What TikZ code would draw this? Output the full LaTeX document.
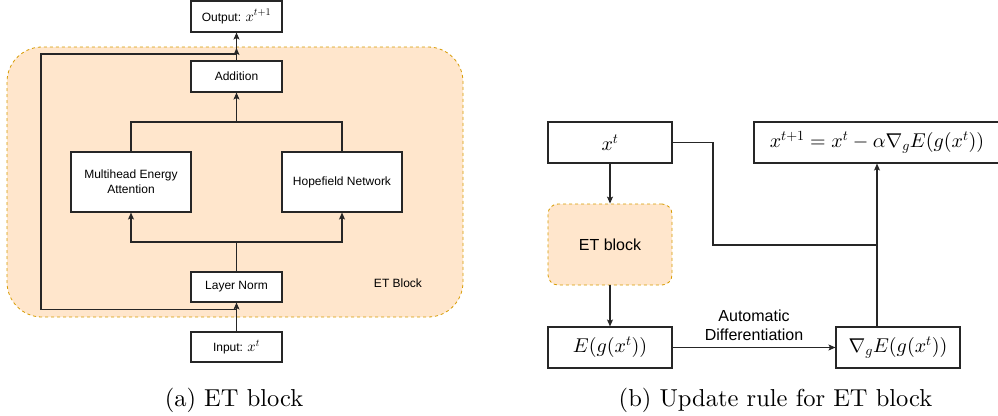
\documentclass[tikz,border=0pt]{standalone}
\usepackage{amsmath}
\usepackage{fontspec}
\newfontfamily\helv{Liberation Sans}
\newfontfamily\capfont[Extension=.otf]{lmroman10-regular}
% math at one design size, scaled (as in the drawing)
\DeclareFontShape{OML}{cmm}{m}{it}{<->cmmi10}{}
\DeclareFontShape{OT1}{cmr}{m}{n}{<->cmr10}{}
\DeclareFontShape{OMS}{cmsy}{m}{n}{<->cmsy10}{}
\usetikzlibrary{arrows.meta}
\definecolor{etfill}{HTML}{FFE6CC}
\definecolor{etline}{HTML}{D79B00}
\newcommand{\lmath}[1]{{\fontsize{14.6}{17}\selectfont$#1$}}
\tikzset{
    box/.style={ % plain white blocks
        draw=black!85,
        line width=1.1pt,
        fill=white,
        inner sep=0pt,
        align=center
    },
    smalltxt/.style={font=\helv\fontsize{12}{15}\selectfont},
    bigtxt/.style={font=\helv\fontsize{16}{19}\selectfont},
    bigmath/.style={font=\fontsize{20}{24}\selectfont},
    etblock/.style={ % orange dashed ET block
        fill=etfill,
        draw=etline,
        line width=0.8pt,
        dash pattern=on 3pt off 3pt
    },
    link/.style={draw=black!85, line width=1.1pt},
    arr/.style={link, -{Stealth[length=7pt,width=6pt,inset=1.5pt]}},
    caption/.style={font=\capfont\fontsize{24.5}{28}\selectfont}
}

\begin{document}
\begin{tikzpicture}[x=1pt,y=-1pt]
\useasboundingbox (0,0) rectangle (998,415);
%%%%%%%%%%%%%%%% (a) ET block
\draw[etblock, rounded corners=35pt] (7,47) rectangle (463,317);
\node [box,smalltxt,minimum width=91pt,minimum height=31pt] (out) at (236.5,16.5) {Output: \lmath{x^{t+1}}};
\node [box,smalltxt,minimum width=91pt,minimum height=31pt] (add) at (236.5,76.5) {Addition};
\node [box,smalltxt,minimum width=120pt,minimum height=60pt] (mea) at (131,182) {Multihead Energy\\Attention};
\node [box,smalltxt,minimum width=120pt,minimum height=60pt] (hop) at (342,182) {Hopefield Network};
\node [box,smalltxt,minimum width=91pt,minimum height=30pt] (ln) at (236.5,287) {Layer Norm};
\node [box,smalltxt,minimum width=91pt,minimum height=30pt] (inp) at (236.5,347) {Input: \lmath{x^t}};
\node [smalltxt] (etlbl) at (398,283) {ET Block};

\coordinate (split) at (236.5,242);
\coordinate (merge) at (236.5,122);
\coordinate (skip) at (236.5,309.5);
\coordinate (skipb) at (41,309.5);
\coordinate (skipt) at (41,54);
\coordinate (skipend) at (236.5,48);

\draw[arr] (inp) -- (ln);
\draw[link] (ln) -- (split);
\draw[arr] (split) -| (mea);
\draw[arr] (split) -| (hop);
\draw[link] (mea) |- (merge);
\draw[link] (hop) |- (merge);
\draw[arr] (merge) -- (add);
\draw[arr] (add) -- (out);
\draw[arr] (skip) -- (skipb) -- (skipt) -| (skipend);

\node [caption] (capa) at (234,400) {(a) ET block};

%%%%%%%%%%%%%%%% (b) update rule
\node [box,bigmath,minimum width=124pt,minimum height=41pt] (xt) at (610,142.5) {$x^t$};
\node [box,bigmath,minimum width=246pt,minimum height=41pt] (upd) at (877,142.5) {$x^{t+1} = x^t - \alpha\nabla_g E(g(x^t))$};
\node [box,etblock,rounded corners=10pt,bigtxt,minimum width=124pt,minimum height=81pt] (et) at (610,244.5) {ET block};
\node [box,bigmath,minimum width=124pt,minimum height=41pt] (eg) at (610,347.5) {$E(g(x^t))$};
\node [box,bigmath,minimum width=124pt,minimum height=41pt] (ng) at (898,347.5) {$\nabla_g E(g(x^t))$};

\coordinate (xbend) at (713,142.5);
\coordinate (join) at (877,245);

\draw[arr] (xt) -- (et);
\draw[arr] (et) -- (eg);
\draw[arr] (eg) -- node[above=6pt,bigtxt,align=center,inner sep=0pt] {Automatic\\Differentiation} (ng);
\draw[arr] (ng.north -| upd) -- (upd);
\draw[link] (xt) -- (xbend) |- (join);

\node [caption] (capb) at (775.5,400) {(b) Update rule for ET block};
\end{tikzpicture}
\end{document}
